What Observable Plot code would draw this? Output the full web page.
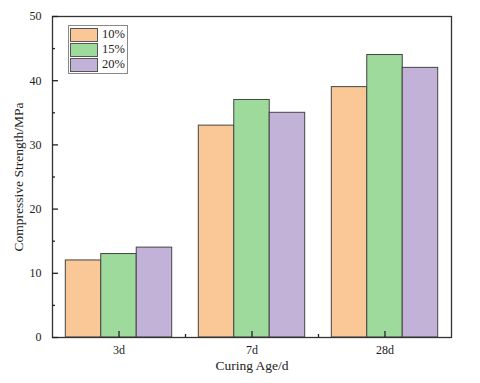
<!DOCTYPE html>
<html>
<head>
<meta charset="utf-8">
<script src="https://cdn.jsdelivr.net/npm/d3@7"></script>
<script src="https://cdn.jsdelivr.net/npm/@observablehq/plot@0.6"></script>
<style>
  html, body { margin: 0; padding: 0; background: #fff; }
  #wrap { position: relative; width: 480px; height: 383px; }
  #legend { position: absolute; left: 68px; top: 25px; border: 1px solid #888; background: #fff;
    font-family: "Liberation Serif", "Times New Roman", serif; font-size: 12.5px; color: #222; padding: 1px 2px 1px 1px; }
  .row { display: flex; align-items: center; height: 15px; }
  .sw { width: 26px; height: 12px; border: 1px solid #555; margin-right: 4px; }
</style>
</head>
<body>
<div id="wrap"><div id="legend"></div></div>
<script>
const ages = ["3d", "7d", "28d"];
const series = ["10%", "15%", "20%"];
const colors = ["#FAC897", "#9DDA9B", "#C3B2D8"];
const v10 = [12, 33, 39];
const v15 = [13, 37, 44];
const v20 = [14, 35, 42];
const yTicks = [0, 10, 20, 30, 40, 50];
const yMinor = [5, 15, 25, 35, 45];

const values = [v10, v15, v20];
const bw = 0.8 / series.length;
const rows = [];
ages.forEach((a, i) => {
  series.forEach((s, j) => {
    rows.push({age: a, i, series: s, j, value: values[j][i],
      x1: i - 0.4 + j * bw, x2: i - 0.4 + (j + 1) * bw});
  });
});

const font = "Liberation Serif, Times New Roman, serif";
const chart = Plot.plot({
  width: 480,
  height: 383,
  marginLeft: 52,
  marginRight: 29,
  marginTop: 16,
  marginBottom: 46,
  style: {fontFamily: font, fontSize: "12px", color: "#222", background: "#fff"},
  x: {type: "linear", domain: [-0.5, ages.length - 0.5], axis: null},
  y: {domain: [0, 50], axis: null},
  color: {domain: series, range: colors},
  marks: [
    Plot.rectY(rows, {x1: "x1", x2: "x2", y1: 0, y2: "value", fill: "series", stroke: "#444", strokeWidth: 1}),
    Plot.frame({stroke: "#333", strokeWidth: 1.3}),
    Plot.axisY({ticks: yTicks, tickSize: -6, tickFormat: () => "", strokeWidth: 1.3, label: null}),
    Plot.axisY({ticks: yMinor, tickSize: -3, tickFormat: () => "", strokeWidth: 1.3, label: null}),
    Plot.axisY({ticks: yTicks, tickSize: 0, tickPadding: 11, fontSize: 12, label: null}),
    Plot.axisX({ticks: [0, 1, 2], tickSize: -6, tickFormat: () => "", strokeWidth: 1.3, label: null}),
    Plot.axisX({ticks: [0.5, 1.5], tickSize: -3, tickFormat: () => "", strokeWidth: 1.3, label: null}),
    Plot.axisX({ticks: [0, 1, 2], tickSize: 0, tickPadding: 8, tickFormat: i => ages[i], fontSize: 12, label: null}),
    Plot.text(["Compressive Strength/MPa"], {frameAnchor: "left", textAnchor: "middle", dx: -34, rotate: -90, fontSize: 13.5, fill: "#222"}),
    Plot.text(["Curing Age/d"], {frameAnchor: "bottom", dy: 32, fontSize: 13.5, fill: "#222"})
  ]
});
document.getElementById("wrap").prepend(chart);
const leg = document.getElementById("legend");
series.forEach((s, j) => {
  const r = document.createElement("div");
  r.className = "row";
  r.innerHTML = `<div class="sw" style="background:${colors[j]}"></div><span>${s}</span>`;
  leg.appendChild(r);
});
</script>
</body>
</html>
